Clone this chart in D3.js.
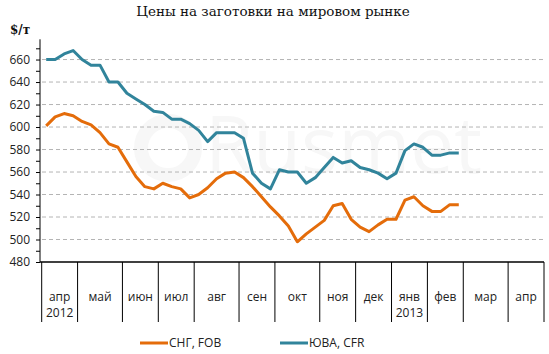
<!DOCTYPE html>
<html>
<head>
<meta charset="utf-8">
<script src="https://cdn.jsdelivr.net/npm/d3@7"></script>
<style>
  body { margin: 0; background: #fff; }
  svg { display: block; }
</style>
</head>
<body>
<div id="chart"></div>
<script>
// weekly prices, $/t
const sngFob = [601, 609, 612, 610, 605, 602, 595, 585, 582, 569, 556, 547, 545, 550, 547, 545,
  537, 540, 546, 554, 559, 560, 555, 547, 538, 529, 521, 512, 498, 505, 511, 517, 530, 532,
  518, 511, 507, 513, 518, 518, 535, 538, 530, 525, 525, 531, 531];
const seaCfr = [660, 660, 665, 668, 660, 655, 655, 640, 640, 630, 625, 620, 614, 613, 607, 607,
  603, 597, 587, 595, 595, 595, 590, 559, 550, 545, 562, 560, 560, 550, 555, 564, 573, 568,
  570, 564, 562, 559, 554, 559, 579, 585, 582, 575, 575, 577, 577];

const months = ["апр", "май", "июн", "июл", "авг", "сен", "окт", "ноя", "дек", "янв", "фев", "мар", "апр"];
const monthWeeks = [4, 5, 4, 4, 5, 4, 5, 4, 4, 4, 4, 5, 4];
const years = ["2012", "", "", "", "", "", "", "", "", "2013", "", "", ""];
const yTicks = [480, 500, 520, 540, 560, 580, 600, 620, 640, 660];

const series = [
  { name: "СНГ, FOB", values: sngFob, color: "#E46C0A" },
  { name: "ЮВА, CFR", values: seaCfr, color: "#31849B" }
];

const width = 549, height = 354;
const totalWeeks = d3.sum(monthWeeks);

const svg = d3.select("#chart").append("svg")
  .attr("width", width)
  .attr("height", height);

const x = d3.scaleLinear().domain([0, totalWeeks]).range([41.7, 544]);
const y = d3.scaleLinear().domain([480, 678]).range([262, 39.3]);

// watermark
const wm = svg.append("g").attr("fill", "#f7f7f7");
wm.append("circle").attr("cx", 168).attr("cy", 148).attr("r", 27)
  .attr("fill", "none").attr("stroke", "#f7f7f7").attr("stroke-width", 14);
wm.append("text").attr("x", 205).attr("y", 173)
  .style("font-family", "'Open Sans', sans-serif").style("font-size", "78px")
  .text("Rusmet");

// title
svg.append("text")
  .attr("x", 273).attr("y", 16)
  .attr("text-anchor", "middle")
  .style("font-family", "'DejaVu Serif', serif")
  .style("font-size", "13.5px")
  .attr("fill", "#111")
  .text("Цены на заготовки на мировом рынке");

svg.append("text")
  .attr("x", 10).attr("y", 34)
  .style("font-family", "'DejaVu Serif', serif")
  .style("font-size", "12px")
  .style("font-weight", "bold")
  .attr("fill", "#111")
  .text("$/т");

// dashed grid
svg.append("g")
  .selectAll("line")
  .data(yTicks.filter(d => d > 480))
  .join("line")
  .attr("x1", 42).attr("x2", 544)
  .attr("y1", d => y(d)).attr("y2", d => y(d))
  .attr("stroke", "#b4b4b4")
  .attr("stroke-dasharray", "4,3");

// y axis
const yAxis = svg.append("g")
  .attr("transform", "translate(40,0)")
  .call(d3.axisLeft(y).tickValues(d3.range(480, 671, 10)).tickSize(4)
    .tickFormat(d => yTicks.includes(d) ? d : ""));
yAxis.select(".domain").attr("d", `M0,${y(480)}V${y.range()[1]}`).attr("stroke", "#000");
yAxis.selectAll(".tick line").attr("stroke", "#000");
yAxis.selectAll(".tick text")
  .attr("x", -10)
  .attr("fill", "#222")
  .style("font-family", "'Open Sans', sans-serif")
  .style("font-size", "12px");

// x axis: month groups
let acc = 0;
const monthData = months.map((m, i) => {
  const start = acc;
  acc += monthWeeks[i];
  return { name: m, year: years[i], start: start, end: acc };
});

const xg = svg.append("g");
xg.append("line")
  .attr("x1", 40).attr("x2", x(totalWeeks))
  .attr("y1", y(480)).attr("y2", y(480))
  .attr("stroke", "#000").attr("stroke-width", 1.5);
xg.selectAll("line.sep")
  .data([0].concat(monthData.map(d => d.end)))
  .join("line")
  .attr("class", "sep")
  .attr("x1", d => x(d)).attr("x2", d => x(d))
  .attr("y1", y(480)).attr("y2", 322)
  .attr("stroke", "#000");
xg.selectAll("text.month")
  .data(monthData)
  .join("text")
  .attr("class", "month")
  .attr("x", d => x((d.start + d.end) / 2))
  .attr("y", 301)
  .attr("text-anchor", "middle")
  .attr("fill", "#222")
  .style("font-family", "'Open Sans', sans-serif")
  .style("font-size", "12px")
  .text(d => d.name);
xg.selectAll("text.year")
  .data(monthData.filter(d => d.year))
  .join("text")
  .attr("class", "year")
  .attr("x", d => x((d.start + d.end) / 2))
  .attr("y", 317)
  .attr("text-anchor", "middle")
  .attr("fill", "#222")
  .style("font-family", "'Open Sans', sans-serif")
  .style("font-size", "12px")
  .text(d => d.year);

// lines
const line = d3.line()
  .x((d, i) => x(i + 0.5))
  .y(d => y(d));

svg.append("g")
  .selectAll("path")
  .data(series)
  .join("path")
  .attr("fill", "none")
  .attr("stroke", d => d.color)
  .attr("stroke-width", 3)
  .attr("stroke-linejoin", "round")
  .attr("d", d => line(d.values));

// legend
const legend = svg.append("g")
  .selectAll("g")
  .data(series)
  .join("g")
  .attr("transform", (d, i) => `translate(${140 + i * 140},343)`);
legend.append("line")
  .attr("x1", 0).attr("x2", 28)
  .attr("stroke", d => d.color)
  .attr("stroke-width", 3);
legend.append("text")
  .attr("x", 29).attr("y", 4)
  .attr("fill", "#222")
  .style("font-family", "'Open Sans', sans-serif")
  .style("font-size", "12px")
  .text(d => d.name);
</script>
</body>
</html>
